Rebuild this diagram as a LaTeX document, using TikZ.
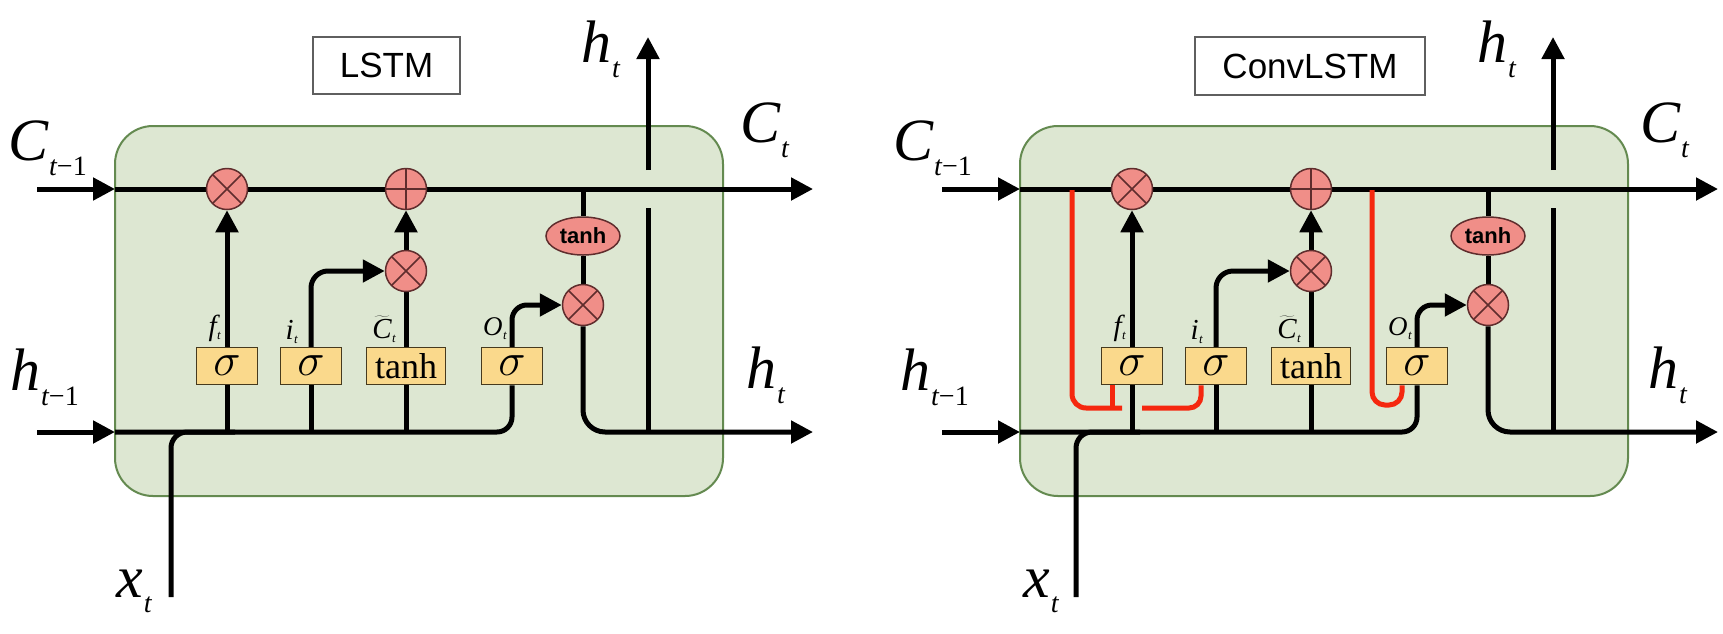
\documentclass[tikz,border=0pt]{standalone}
\usepackage{fix-cm}
\usepackage{fontspec}
\newfontfamily\sansf{Liberation Sans}
\newfontfamily\seriff{Liberation Serif}
\usetikzlibrary{arrows.meta,shapes.geometric}
\pgfdeclarelayer{cellbg}
\pgfdeclarelayer{wires}
\pgfsetlayers{cellbg,wires,main}

\definecolor{cellfill}{RGB}{221,231,210}
\definecolor{cellline}{RGB}{100,138,80}
\definecolor{opfill}{RGB}{240,142,136}
\definecolor{opline}{RGB}{95,45,45}
\definecolor{gatefill}{RGB}{250,217,140}
\definecolor{gateline}{RGB}{70,58,30}
\definecolor{peepred}{RGB}{245,40,15}
\definecolor{titleline}{RGB}{95,95,95}

% big italic symbol with lowered subscript (Times-like)
\newcommand\bigsym[2]{\seriff\fontsize{60}{60}\selectfont\itshape #1\kern1pt\raisebox{-15pt}{\fontsize{28}{28}\selectfont #2}}
% small gate label with tiny subscript
\newcommand\gatesym[2]{\seriff\itshape #1\kern0.5pt\raisebox{-4pt}{\fontsize{13}{13}\selectfont #2}}

\tikzset{
  wire/.style={line width=5pt, draw=black},
  arr/.style={wire, -{Triangle[length=22pt,width=22pt]}},
  peep/.style={line width=5pt, draw=peepred},
  cellbox/.style={fill=cellfill, draw=cellline, line width=2pt, rounded corners=38pt},
  opnode/.style={circle, minimum size=41pt, inner sep=0pt, fill=opfill, draw=opline, line width=1.5pt},
  mulop/.style={opnode, path picture={\draw[opline, line width=1.5pt]
      (path picture bounding box.north west) -- (path picture bounding box.south east)
      (path picture bounding box.north east) -- (path picture bounding box.south west);}},
  addop/.style={opnode, path picture={\draw[opline, line width=1.5pt]
      (path picture bounding box.north) -- (path picture bounding box.south)
      (path picture bounding box.west) -- (path picture bounding box.east);}},
  tanhop/.style={ellipse, minimum width=74pt, minimum height=38pt, inner sep=0pt,
      fill=opfill, draw=opline, line width=1.5pt, font=\sansf\bfseries\fontsize{22}{22}\selectfont},
  gate/.style={rectangle, minimum width=61pt, minimum height=37pt, inner sep=0pt,
      fill=gatefill, draw=gateline, line width=1.5pt, font=\fontsize{46}{46}\selectfont},
  tgate/.style={gate, minimum width=79pt, font=\seriff\fontsize{36}{36}\selectfont},
  glabel/.style={inner sep=0pt, font=\fontsize{29}{29}\selectfont},
  biglab/.style={inner sep=0pt},
  titlebox/.style={draw=titleline, line width=1.2pt, fill=white, inner sep=0pt,
      minimum height=57pt, font=\sansf\fontsize{35}{35}\selectfont},
}

\newcommand\lstmcell[1]{%
  \begin{pgfonlayer}{cellbg}
    \draw[cellbox] (115,126) rectangle (723,496);
  \end{pgfonlayer}
  \coordinate (#1cin) at (37,189);
  \coordinate (#1cl) at (115,189);
  \coordinate (#1cout) at (813,189);
  \coordinate (#1hin) at (37,432);
  \coordinate (#1hl) at (115,432);
  \coordinate (#1hout) at (813,432);
  \coordinate (#1xin) at (171,597);
  \coordinate (#1xj) at (235,432);
  \coordinate (#1hup) at (648,37);
  \coordinate (#1hupa) at (648,170);
  \coordinate (#1hupb) at (648,208);
  \coordinate (#1hupc) at (648,432);
  \node[mulop] (#1fx) at (227,189) {};
  \node[addop] (#1ax) at (406,189) {};
  \node[mulop] (#1ix) at (406,271) {};
  \node[tanhop] (#1th) at (583,236) {tanh};
  \node[mulop] (#1ox) at (583,305) {};
  \node[gate] (#1fs) at (227,366) {$\sigma$};
  \node[gate] (#1is) at (311,366) {$\sigma$};
  \node[tgate] (#1ts) at (406,366) {tanh};
  \node[gate] (#1os) at (512,366) {$\sigma$};
  \node[glabel, anchor=base east] (#1fl) at (221,335) {\gatesym{f}{t}};
  \node[glabel, anchor=base east] (#1il) at (298,339) {\gatesym{i}{t}};
  \node[glabel, anchor=base east] (#1cl2) at (396,338) {$\widetilde{\hbox{\seriff\itshape C}}$\kern0.5pt\raisebox{-4pt}{\seriff\itshape\fontsize{13}{13}\selectfont t}};
  \node[glabel, anchor=base east, font=\fontsize{27}{27}\selectfont] (#1ol) at (507,335) {\gatesym{O}{t}};
  \begin{pgfonlayer}{wires}
    \draw[arr] (#1cin) -- (#1cl);
    \draw[arr] (#1hin) -- (#1hl);
    \draw[arr] (#1cl) -- (#1cout);
    \draw[wire, rounded corners=16pt] (#1xin) -- (#1xin |- #1hl) -- (#1xj);
    \draw[wire, rounded corners=15pt] (#1hl) -- (#1os.south |- #1hl) -- (#1os.south);
    \draw[wire] (#1fs.south |- #1hl) -- (#1fs.south);
    \draw[arr] (#1fs.north) -- (#1fx.south);
    \draw[wire] (#1is.south |- #1hl) -- (#1is.south);
    \draw[arr, rounded corners=17pt] (#1is.north) -- (#1is.north |- #1ix) -- (#1ix.west);
    \draw[wire] (#1ts.south |- #1hl) -- (#1ts.south);
    \draw[wire] (#1ts.north) -- (#1ix.south);
    \draw[arr] (#1ix.north) -- (#1ax.south);
    \draw[arr, rounded corners=15pt] (#1os.north) -- (#1os.north |- #1ox) -- (#1ox.west);
    \draw[wire] (#1th.north |- #1cl) -- (#1th.north);
    \draw[wire] (#1th.south) -- (#1ox.north);
    \draw[arr, rounded corners=22pt] (#1ox.south) -- (#1ox.south |- #1hout) -- (#1hout);
    \draw[wire] (#1hupc) -- (#1hupb);
    \draw[arr] (#1hupa) -- (#1hup);
  \end{pgfonlayer}
}

\begin{document}
\begin{tikzpicture}[x=1pt,y=-1pt]
\useasboundingbox (0,0) rectangle (1723,633);
\begin{pgfonlayer}{cellbg}
  \fill[white] (0,0) rectangle (1723,633);
\end{pgfonlayer}

% left panel: LSTM
\lstmcell{L}
\node[titlebox, minimum width=147pt] (Ltitle) at (386.5,65.5) {LSTM};
\node[biglab, anchor=base west] (Lcin) at (8,160) {\bigsym{C}{t\upshape −1}};
\node[biglab, anchor=base west] (Lhin) at (10,390) {\bigsym{h}{t\upshape −1}};
\node[biglab, anchor=base west] (Lxin) at (116,597) {\bigsym{x}{t}};
\node[biglab, anchor=base west] (Lhup) at (581,62) {\bigsym{h}{t}};
\node[biglab, anchor=base west] (Lcout) at (740,142) {\bigsym{C}{t}};
\node[biglab, anchor=base west] (Lhout) at (746,388) {\bigsym{h}{t}};

% right panel: ConvLSTM
\begin{scope}[shift={(905,0)}]
  \lstmcell{R}
  \coordinate (Rp1) at (167,190);
  \coordinate (Rp1e) at (217,408);
  \coordinate (Rp2s) at (237,408);
  \coordinate (Rp3) at (467,190);
  \coordinate (Rp3b) at (467,405);
  \coordinate (Rft) at ([xshift=-20pt]Rfs.south);
  \coordinate (Rit) at ([xshift=-15pt]Ris.south);
  \coordinate (Rot) at ([xshift=-15pt]Ros.south);
  \begin{pgfonlayer}{wires}
    \draw[peep, rounded corners=14pt] (Rp1) -- (Rp1 |- Rp1e) -- (Rp1e);
    \draw[peep] (Rft |- Rp1e) -- (Rft);
    \draw[peep, rounded corners=12pt] (Rp2s) -- (Rit |- Rp2s) -- (Rit);
    \draw[peep, rounded corners=13pt] (Rp3) -- (Rp3b) -- (Rot |- Rp3b) -- (Rot);
  \end{pgfonlayer}
\end{scope}
\node[titlebox, minimum width=230pt, minimum height=58pt] (Rtitle) at (1310,66) {ConvLSTM};
\node[biglab, anchor=base west] (Rcin) at (893,160) {\bigsym{C}{t\upshape −1}};
\node[biglab, anchor=base west] (Rhin) at (900,390) {\bigsym{h}{t\upshape −1}};
\node[biglab, anchor=base west] (Rxin) at (1023,597) {\bigsym{x}{t}};
\node[biglab, anchor=base west] (Rhup) at (1477,62) {\bigsym{h}{t}};
\node[biglab, anchor=base west] (Rcout) at (1640,142) {\bigsym{C}{t}};
\node[biglab, anchor=base west] (Rhout) at (1648,388) {\bigsym{h}{t}};
\end{tikzpicture}
\end{document}
